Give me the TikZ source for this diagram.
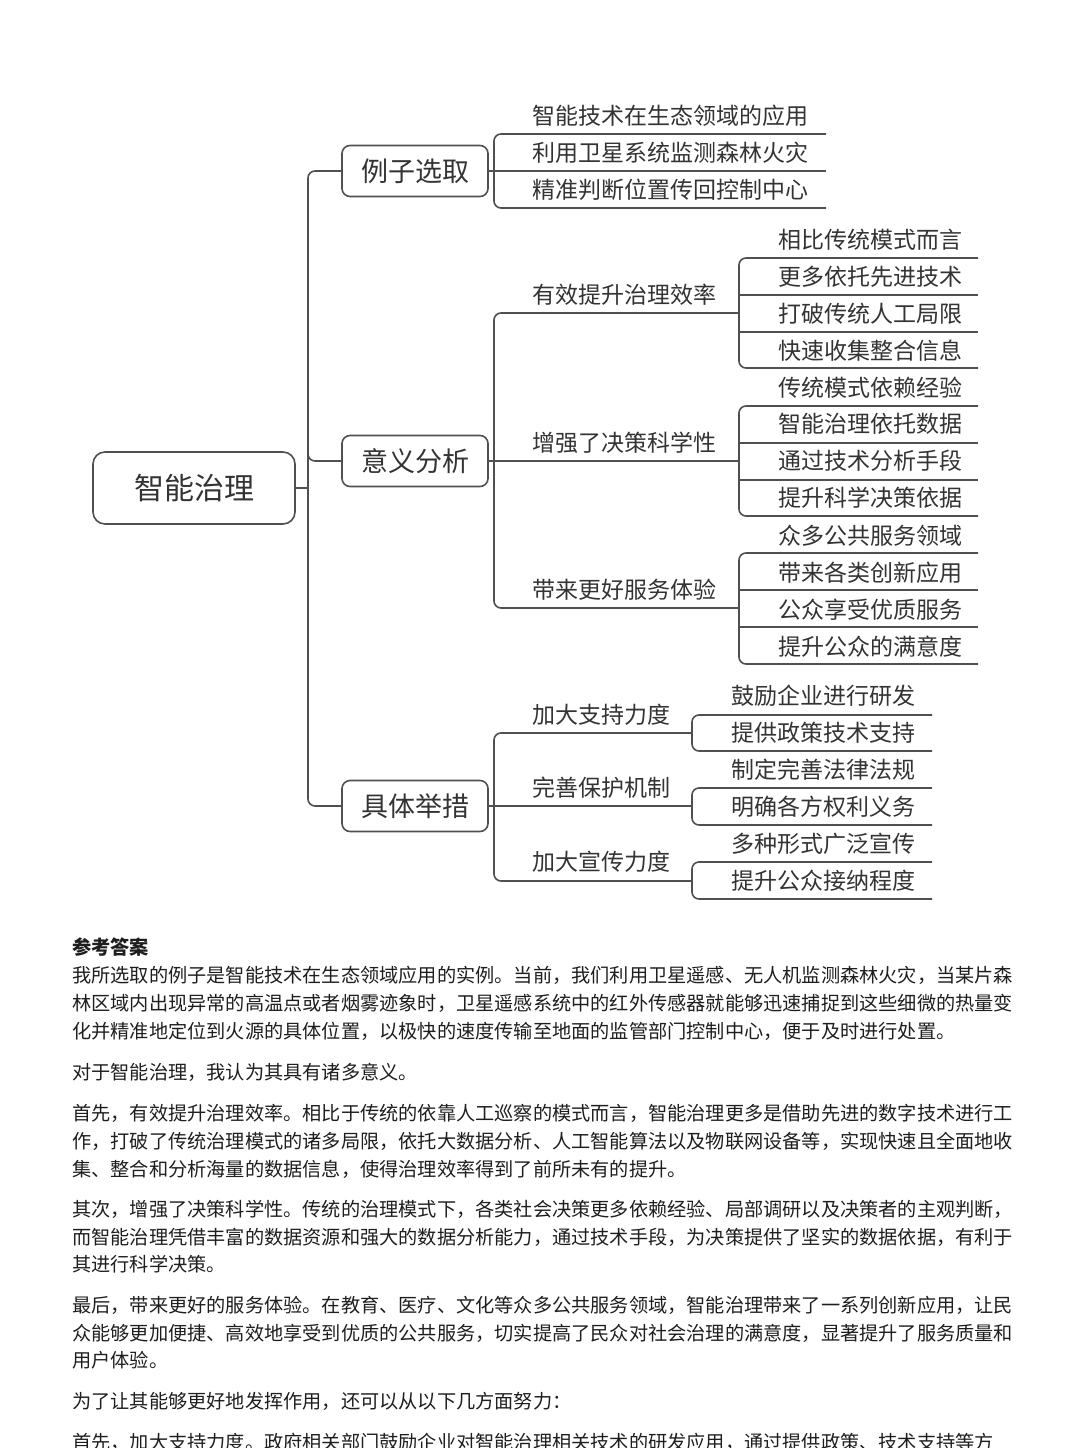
\documentclass[tikz,border=0pt]{standalone}
\usepackage{fontspec}
\newfontfamily\cjk{Noto Sans CJK SC}
\definecolor{linec}{HTML}{505050}
\definecolor{txt}{HTML}{333333}
\definecolor{body}{HTML}{1E1E1E}
\begin{document}
\begin{tikzpicture}[x=1pt,y=-1pt,
  ln/.style={draw=linec, line width=1.6pt},
  br/.style={ln, rounded corners=7pt},
  rootbox/.style={draw=linec, line width=1.6pt, rounded corners=12pt, minimum width=202pt, minimum height=72pt, inner sep=0pt, font=\cjk\fontsize{30}{30}\selectfont, text=txt},
  lonebox/.style={draw=linec, line width=1.6pt, rounded corners=8pt, minimum width=146pt, minimum height=51pt, inner sep=0pt, font=\cjk\fontsize{27}{27}\selectfont, text=txt},
  leaf/.style={anchor=west, inner sep=0pt, font=\cjk\fontsize{23}{23}\selectfont, text=txt},
  para/.style={anchor=west, inner sep=0pt, font=\cjk\fontsize{19.2}{19.2}\selectfont, text=body}]
\useasboundingbox[fill=white] (0,0) rectangle (1080,1448);

% root and level-1 boxes
\node[rootbox] (root) at (194,488) {智能治理};
\node[lonebox] (b1) at (415,171) {例子选取};
\node[lonebox] (b2) at (415,461) {意义分析};
\node[lonebox] (b3) at (415,806) {具体举措};

% trunk
\coordinate (tr) at (308,488);
\draw[ln] (root.east) -- (tr);
\draw[br] (b1.west) -- (308,171) -- (308,806) -- (b3.west);
\draw[br] (308,430) -- (308,461) -- (b2.west);

% ---------- 例子选取 ----------
\draw[br] (826,134) -- (494,134) -- (494,208) -- (826,208);
\draw[ln] (b1.east) -- (826,171);
\node[leaf] (a1) at (532,116) {智能技术在生态领域的应用};
\node[leaf] (a2) at (532,153) {利用卫星系统监测森林火灾};
\node[leaf] (a3) at (532,190) {精准判断位置传回控制中心};

% ---------- 意义分析 ----------
\draw[br] (739,313) -- (494,313) -- (494,608) -- (739,608);
\draw[ln] (b2.east) -- (739,461);
\node[leaf] (m1) at (532,295) {有效提升治理效率};
\node[leaf] (m2) at (532,443) {增强了决策科学性};
\node[leaf] (m3) at (532,590) {带来更好服务体验};

% group A
\draw[br] (978,258) -- (739,258) -- (739,368) -- (978,368);
\draw[ln] (739,295) -- (978,295);
\draw[ln] (739,332) -- (978,332);
\node[leaf] (ma1) at (778,240) {相比传统模式而言};
\node[leaf] (ma2) at (778,277) {更多依托先进技术};
\node[leaf] (ma3) at (778,314) {打破传统人工局限};
\node[leaf] (ma4) at (778,351) {快速收集整合信息};

% group B
\draw[br] (978,406) -- (739,406) -- (739,516) -- (978,516);
\draw[ln] (739,443) -- (978,443);
\draw[ln] (739,480) -- (978,480);
\node[leaf] (mb1) at (778,388) {传统模式依赖经验};
\node[leaf] (mb2) at (778,424) {智能治理依托数据};
\node[leaf] (mb3) at (778,461) {通过技术分析手段};
\node[leaf] (mb4) at (778,498) {提升科学决策依据};

% group C
\draw[br] (978,553) -- (739,553) -- (739,664) -- (978,664);
\draw[ln] (739,590) -- (978,590);
\draw[ln] (739,627) -- (978,627);
\node[leaf] (mc1) at (778,536) {众多公共服务领域};
\node[leaf] (mc2) at (778,573) {带来各类创新应用};
\node[leaf] (mc3) at (778,610) {公众享受优质服务};
\node[leaf] (mc4) at (778,647) {提升公众的满意度};

% ---------- 具体举措 ----------
\draw[br] (692,733) -- (494,733) -- (494,881) -- (692,881);
\draw[ln] (b3.east) -- (692,806);
\node[leaf] (c1) at (532,715) {加大支持力度};
\node[leaf] (c2) at (532,788) {完善保护机制};
\node[leaf] (c3) at (532,862) {加大宣传力度};

\draw[br] (932,715) -- (692,715) -- (692,751) -- (932,751);
\node[leaf] (ca1) at (731,696) {鼓励企业进行研发};
\node[leaf] (ca2) at (731,733) {提供政策技术支持};

\draw[br] (932,788) -- (692,788) -- (692,825) -- (932,825);
\node[leaf] (cb1) at (731,770) {制定完善法律法规};
\node[leaf] (cb2) at (731,807) {明确各方权利义务};

\draw[br] (932,862) -- (692,862) -- (692,899) -- (932,899);
\node[leaf] (cc1) at (731,844) {多种形式广泛宣传};
\node[leaf] (cc2) at (731,881) {提升公众接纳程度};

% ---------- answer text ----------
\node[para, font=\cjk\bfseries\fontsize{19.2}{19.2}\selectfont] (h) at (72,947) {参考答案};
\node[para] (p1) at (72,975) {我所选取的例子是智能技术在生态领域应用的实例。当前，我们利用卫星遥感、无人机监测森林火灾，当某片森};
\node[para] (p2) at (72,1003) {林区域内出现异常的高温点或者烟雾迹象时，卫星遥感系统中的红外传感器就能够迅速捕捉到这些细微的热量变};
\node[para] (p3) at (72,1031) {化并精准地定位到火源的具体位置，以极快的速度传输至地面的监管部门控制中心，便于及时进行处置。};
\node[para] (p4) at (72,1072) {对于智能治理，我认为其具有诸多意义。};
\node[para] (p5) at (72,1113) {首先，有效提升治理效率。相比于传统的依靠人工巡察的模式而言，智能治理更多是借助先进的数字技术进行工};
\node[para] (p6) at (72,1141) {作，打破了传统治理模式的诸多局限，依托大数据分析、人工智能算法以及物联网设备等，实现快速且全面地收};
\node[para] (p7) at (72,1169) {集、整合和分析海量的数据信息，使得治理效率得到了前所未有的提升。};
\node[para] (p8) at (72,1209) {其次，增强了决策科学性。传统的治理模式下，各类社会决策更多依赖经验、局部调研以及决策者的主观判断，};
\node[para] (p9) at (72,1237) {而智能治理凭借丰富的数据资源和强大的数据分析能力，通过技术手段，为决策提供了坚实的数据依据，有利于};
\node[para] (p10) at (72,1264) {其进行科学决策。};
\node[para] (p11) at (72,1305) {最后，带来更好的服务体验。在教育、医疗、文化等众多公共服务领域，智能治理带来了一系列创新应用，让民};
\node[para] (p12) at (72,1333) {众能够更加便捷、高效地享受到优质的公共服务，切实提高了民众对社会治理的满意度，显著提升了服务质量和};
\node[para] (p13) at (72,1360) {用户体验。};
\node[para] (p14) at (72,1401) {为了让其能够更好地发挥作用，还可以从以下几方面努力：};
\node[para] (p15) at (72,1442) {首先，加大支持力度。政府相关部门鼓励企业对智能治理相关技术的研发应用，通过提供政策、技术支持等方};
\end{tikzpicture}
\end{document}
